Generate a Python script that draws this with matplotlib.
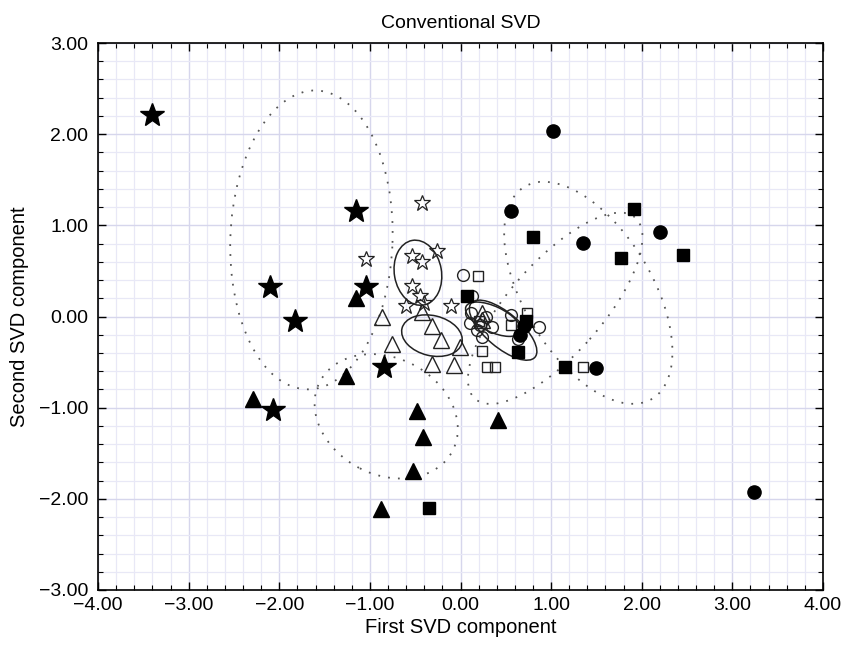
import matplotlib
matplotlib.use("Agg")
import matplotlib.pyplot as plt
from matplotlib.patches import Ellipse
from matplotlib.ticker import MultipleLocator, FuncFormatter

plt.rcParams['font.family'] = ['Liberation Sans', 'DejaVu Sans']

# ---- data ----
filled_star_x = [-3.40, -1.15, -2.10, -1.83, -1.04, -0.84, -2.07]
filled_star_y = [2.21, 1.16, 0.32, -0.05, 0.32, -0.55, -1.03]

open_star_x = [-0.42, -1.04, -0.53, -0.42, -0.26, -0.53, -0.45, -0.60, -0.10, -0.40]
open_star_y = [1.25, 0.63, 0.66, 0.60, 0.72, 0.34, 0.22, 0.12, 0.11, 0.15]

filled_tri_x = [-1.15, -1.26, -2.29, -0.48, -0.41, -0.52, -0.88, 0.41]
filled_tri_y = [0.20, -0.65, -0.90, -1.04, -1.32, -1.69, -2.11, -1.14]

open_tri_x = [-0.87, -0.76, -0.43, -0.32, -0.21, -0.01, -0.31, -0.07, 0.24, 0.24]
open_tri_y = [0.00, -0.30, 0.05, -0.10, -0.26, -0.34, -0.52, -0.53, 0.04, -0.04]

filled_circ_x = [1.02, 0.56, 1.35, 2.20, 1.49, 3.24, 0.70, 0.66]
filled_circ_y = [2.03, 1.16, 0.81, 0.93, -0.56, -1.93, -0.10, -0.20]

open_circ_x = [0.03, 0.13, 0.87, 0.12, 0.10, 0.21, 0.35, 0.24, 0.56, 0.63, 0.28, 0.18]
open_circ_y = [0.45, 0.22, -0.12, 0.04, -0.07, -0.09, -0.12, -0.23, 0.02, -0.25, 0.00, -0.15]

filled_sq_x = [1.92, 0.80, 1.77, 2.45, 0.07, 0.72, 0.63, 1.15, -0.35]
filled_sq_y = [1.18, 0.87, 0.64, 0.67, 0.22, -0.05, -0.39, -0.55, -2.10]

open_sq_x = [0.19, 0.73, 0.56, 0.24, 0.29, 0.38, 1.35, 0.20]
open_sq_y = [0.44, 0.04, -0.09, -0.38, -0.55, -0.55, -0.55, -0.05]

# confidence ellipses: center x, center y, width, height, angle (deg)
dotted_ell_cx = [-1.645, -0.82, 1.41, 1.045]
dotted_ell_cy = [0.84, -1.095, 0.26, 0.09]
dotted_ell_w = [3.28, 1.65, 2.72, 2.66]
dotted_ell_h = [1.79, 1.28, 1.41, 1.02]
dotted_ell_a = [88.0, -27.0, -58.7, 48.3]

solid_ell_cx = [-0.47, -0.315, 0.36, 0.47]
solid_ell_cy = [0.48, -0.21, -0.03, -0.15]
solid_ell_w = [0.72, 0.68, 0.66, 0.92]
solid_ell_h = [0.52, 0.44, 0.28, 0.38]
solid_ell_a = [100.0, -13.5, -25.0, -40.0]

x_ticks = [-4, -3, -2, -1, 0, 1, 2, 3, 4]
y_ticks = [-3, -2, -1, 0, 1, 2, 3]


def fmt(v, pos):
    s = '%.2f' % abs(v)
    return ('\u2212' + s) if v < -1e-9 else s


# ---- figure ----
fig = plt.figure(figsize=(8.48, 6.45), dpi=100)
ax = fig.add_axes([0.1156, 0.0853, 0.8549, 0.848])

ax.set_xlim(-4, 4)
ax.set_ylim(-3, 3)
ax.set_xticks(x_ticks)
ax.set_yticks(y_ticks)
ax.xaxis.set_minor_locator(MultipleLocator(0.2))
ax.yaxis.set_minor_locator(MultipleLocator(0.2))
ax.xaxis.set_major_formatter(FuncFormatter(fmt))
ax.yaxis.set_major_formatter(FuncFormatter(fmt))

ax.grid(which='minor', color='#e8e8f6', linewidth=0.9, zorder=0)
ax.grid(which='major', color='#d6d6ec', linewidth=1.0, zorder=0)
ax.set_axisbelow(True)

ax.tick_params(which='both', direction='in', top=True, right=True,
               labelsize=14, colors='black')
ax.tick_params(axis='y', which='major', pad=7)
ax.tick_params(axis='x', which='major', pad=5)
ax.tick_params(which='major', length=6, width=1)
ax.tick_params(which='minor', length=3.5, width=0.8)
for sp in ax.spines.values():
    sp.set_linewidth(1.2)

for cx, cy, w, h, a in zip(dotted_ell_cx, dotted_ell_cy, dotted_ell_w, dotted_ell_h, dotted_ell_a):
    ax.add_patch(Ellipse((cx, cy), w, h, angle=a, fill=False, edgecolor='#555555',
                         linewidth=1.3, linestyle=(0, (1, 4.5)), zorder=2))
for cx, cy, w, h, a in zip(solid_ell_cx, solid_ell_cy, solid_ell_w, solid_ell_h, solid_ell_a):
    ax.add_patch(Ellipse((cx, cy), w, h, angle=a, fill=False, edgecolor='#222222',
                         linewidth=1.1, zorder=3))

ax.plot(open_circ_x, open_circ_y, 'o', ms=8.5, mfc='none', mec='#222222', mew=1.0, zorder=4)
ax.plot(open_sq_x, open_sq_y, 's', ms=7.5, mfc='none', mec='#222222', mew=1.0, zorder=4)
ax.plot(open_tri_x, open_tri_y, '^', ms=11, mfc='none', mec='#222222', mew=1.0, zorder=4)
ax.plot(open_star_x, open_star_y, '*', ms=12, mfc='none', mec='#222222', mew=0.9, zorder=4)

ax.plot(filled_circ_x, filled_circ_y, 'o', ms=9.5, mfc='black', mec='black', zorder=5)
ax.plot(filled_sq_x, filled_sq_y, 's', ms=8.5, mfc='black', mec='black', zorder=5)
ax.plot(filled_tri_x, filled_tri_y, '^', ms=11, mfc='black', mec='black', zorder=5)
ax.plot(filled_star_x, filled_star_y, '*', ms=18, mfc='black', mec='black', zorder=5)

ax.set_title('Conventional SVD', fontsize=14, pad=11)
ax.set_xlabel('First SVD component', fontsize=14.5, labelpad=3)
ax.set_ylabel('Second SVD component', fontsize=14.5, labelpad=7)

fig.savefig('out.png', dpi=100)
